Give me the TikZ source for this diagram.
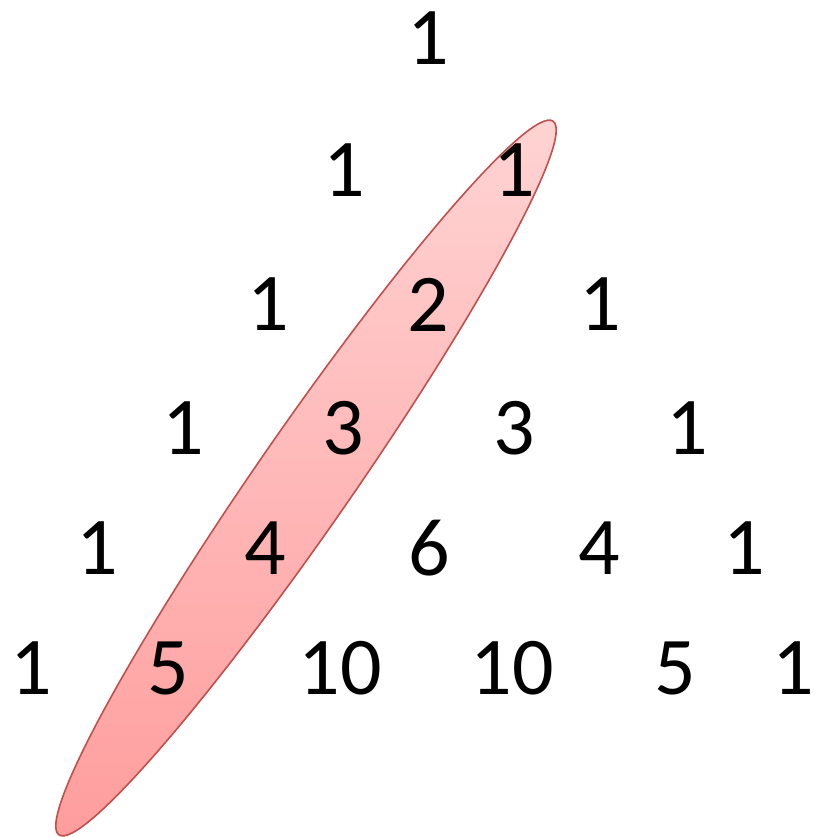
\documentclass[tikz,border=0pt]{standalone}
\usepackage{fontspec}
\setmainfont{Carlito}
\definecolor{ovalTop}{RGB}{255,212,212}
\definecolor{ovalBot}{RGB}{255,156,156}
\definecolor{ovalEdge}{RGB}{192,80,77}
\begin{document}
\begin{tikzpicture}[x=1pt,y=-1pt,
  num/.style={inner sep=0pt,outer sep=0pt,font=\fontsize{82}{96}\selectfont,text=black},
  oval/.style={draw=ovalEdge,line width=1.6pt,top color=ovalTop,bottom color=ovalBot}]
\useasboundingbox (0,0) rectangle (814,837);
\path[oval] (306,478) ellipse [x radius=434, y radius=48, rotate=55.3];
% row 0
\node[num] (r0a) at (428,38.5) {1};
% row 1
\node[num] (r1a) at (344,170) {1};
\node[num] (r1b) at (514,170) {1};
% row 2
\node[num] (r2a) at (268,304.5) {1};
\node[num] (r2b) at (428,304.5) {2};
\node[num] (r2c) at (600,304.5) {1};
% row 3
\node[num] (r3a) at (183,428) {1};
\node[num] (r3b) at (343,428) {3};
\node[num] (r3c) at (514,428) {3};
\node[num] (r3d) at (687,428) {1};
% row 4
\node[num] (r4a) at (97,548) {1};
\node[num] (r4b) at (265,548) {4};
\node[num] (r4c) at (429,548) {6};
\node[num] (r4d) at (599,548) {4};
\node[num] (r4e) at (744,548) {1};
% row 5
\node[num] (r5a) at (31,668) {1};
\node[num] (r5b) at (168,668) {5};
\node[num] (r5c) at (340,668) {10};
\node[num] (r5d) at (512,668) {10};
\node[num] (r5e) at (675,668) {5};
\node[num] (r5f) at (793,668) {1};
\end{tikzpicture}
\end{document}
